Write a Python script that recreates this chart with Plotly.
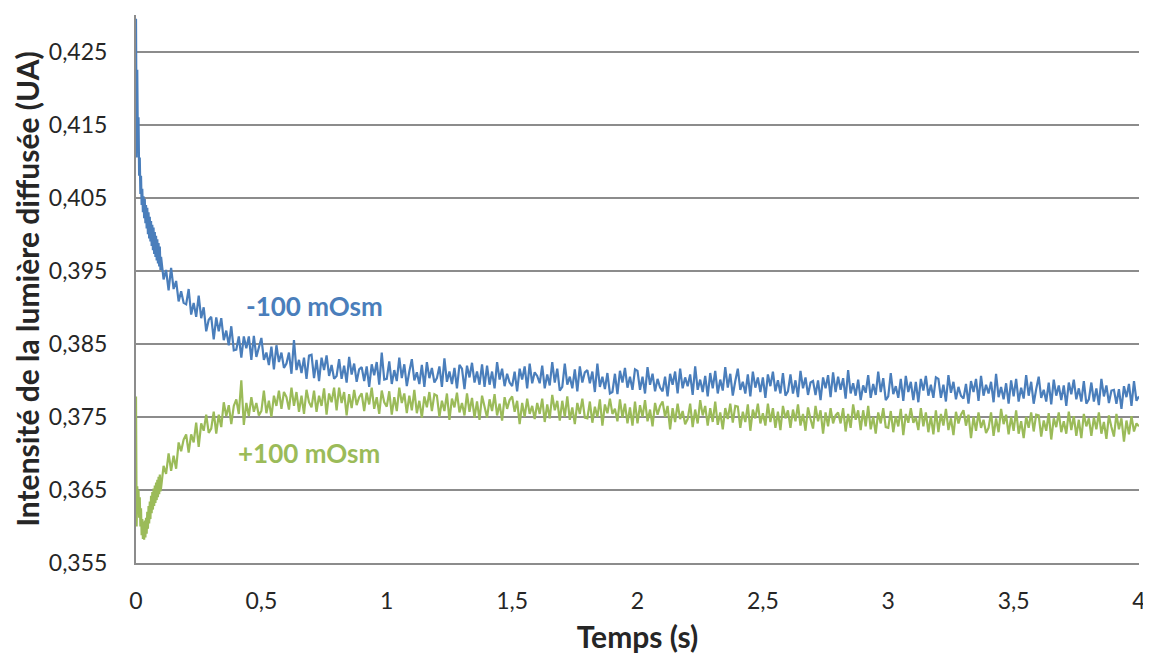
import numpy as np
import plotly.graph_objects as go

# sampling times (s): fine grid at start, then 0.01 s
t_fast = list(np.round(np.arange(40) * 0.0025, 4))
t_slow = list(np.round(np.arange(10, 401) * 0.01, 4))
time_s = t_fast + t_slow

blue_fast = [
    .4295, .4105, .4225, .4120, .4160, .4080, .4105, .4055, .4080, .4040,
    .4062, .4030, .4052, .4022, .4048, .4015, .4040, .4008, .4036, .4000,
    .4030, .3994, .4024, .3990, .4018, .3984, .4013, .3978, .4009, .3973,
    .4003, .3969, .3998, .3964, .3993, .3960, .3988, .3956, .3983, .3951,
]
blue_slow = [
    .3969, .3938, .3951, .3923, .3954, .3925, .3936, .3908, .3922, .3906,
    .3904, .3925, .3890, .3906, .3887, .3916, .3885, .3900, .3867, .3883,
    .3887, .3856, .3886, .3867, .3885, .3855, .3868, .3848, .3874, .3841,
    .3842, .3860, .3831, .3860, .3844, .3860, .3828, .3861, .3832, .3846,
    .3858, .3828, .3838, .3821, .3846, .3815, .3848, .3825, .3838, .3817,
    .3823, .3838, .3809, .3855, .3814, .3828, .3810, .3831, .3802, .3834,
    .3835, .3803, .3828, .3799, .3831, .3814, .3834, .3806, .3821, .3802,
    .3806, .3829, .3802, .3820, .3797, .3832, .3808, .3823, .3798, .3815,
    .3818, .3799, .3819, .3791, .3822, .3807, .3825, .3794, .3838, .3801,
    .3802, .3826, .3795, .3814, .3799, .3831, .3803, .3822, .3792, .3812,
    .3829, .3800, .3811, .3795, .3821, .3791, .3825, .3803, .3817, .3797,
    .3803, .3819, .3791, .3830, .3798, .3812, .3795, .3817, .3789, .3821,
    .3816, .3788, .3820, .3804, .3824, .3797, .3812, .3794, .3822, .3791,
    .3820, .3794, .3812, .3789, .3825, .3801, .3816, .3792, .3809, .3797,
    .3792, .3812, .3785, .3816, .3801, .3819, .3789, .3823, .3796, .3811,
    .3806, .3796, .3820, .3789, .3808, .3793, .3825, .3797, .3816, .3786,
    .3791, .3823, .3794, .3805, .3789, .3815, .3785, .3819, .3797, .3811,
    .3814, .3796, .3812, .3784, .3823, .3791, .3805, .3788, .3810, .3782,
    .3784, .3809, .3781, .3813, .3797, .3817, .3790, .3805, .3787, .3815,
    .3813, .3787, .3805, .3782, .3818, .3794, .3809, .3785, .3802, .3790,
    .3785, .3805, .3778, .3809, .3794, .3812, .3782, .3816, .3789, .3804,
    .3792, .3808, .3780, .3819, .3787, .3801, .3784, .3806, .3778, .3810,
    .3789, .3813, .3782, .3801, .3786, .3818, .3790, .3809, .3779, .3799,
    .3816, .3787, .3798, .3782, .3808, .3778, .3812, .3790, .3804, .3784,
    .3804, .3776, .3808, .3792, .3812, .3785, .3800, .3782, .3810, .3779,
    .3785, .3808, .3782, .3800, .3777, .3813, .3789, .3804, .3780, .3797,
    .3799, .3780, .3800, .3773, .3804, .3789, .3807, .3777, .3811, .3784,
    .3805, .3787, .3803, .3775, .3814, .3782, .3796, .3779, .3801, .3773,
    .3793, .3783, .3807, .3776, .3795, .3780, .3812, .3784, .3803, .3773,
    .3778, .3810, .3781, .3792, .3776, .3802, .3772, .3806, .3784, .3798,
    .3773, .3798, .3770, .3802, .3786, .3806, .3779, .3794, .3776, .3804,
    .3802, .3776, .3794, .3771, .3807, .3783, .3798, .3774, .3791, .3779,
    .3775, .3795, .3768, .3799, .3784, .3802, .3772, .3806, .3779, .3794,
    .3782, .3798, .3770, .3809, .3777, .3791, .3774, .3796, .3768, .3800,
    .3778, .3802, .3771, .3790, .3775, .3807, .3779, .3798, .3768, .3788,
    .3805, .3776, .3787, .3771, .3797, .3767, .3801, .3779, .3793, .3773,
    .3793, .3765, .3797, .3781, .3801, .3774, .3789, .3771, .3799, .3768,
    .3774, .3797, .3771, .3789, .3766, .3802, .3778, .3793, .3769, .3786,
    .3787, .3768, .3788, .3761, .3792, .3777, .3795, .3765, .3799, .3772,
    .3778,
]

green_fast = [
    .3778, .3600, .3655, .3618, .3650, .3612, .3640, .3600, .3625, .3588,
    .3610, .3583, .3606, .3582, .3608, .3585, .3612, .3590, .3620, .3597,
    .3628, .3604, .3634, .3610, .3642, .3618, .3647, .3623, .3652, .3628,
    .3656, .3632, .3660, .3636, .3664, .3640, .3668, .3644, .3671, .3648,
]
green_slow = [
    .3653, .3683, .3672, .3700, .3676, .3697, .3679, .3715, .3703, .3719,
    .3726, .3701, .3726, .3715, .3742, .3709, .3741, .3731, .3753, .3728,
    .3734, .3757, .3727, .3753, .3736, .3770, .3751, .3766, .3740, .3765,
    .3774, .3754, .3800, .3739, .3769, .3751, .3777, .3757, .3769, .3752,
    .3758, .3786, .3755, .3772, .3750, .3779, .3765, .3786, .3761, .3784,
    .3777, .3760, .3790, .3765, .3784, .3757, .3779, .3754, .3787, .3770,
    .3763, .3786, .3757, .3779, .3765, .3789, .3753, .3782, .3770, .3790,
    .3759, .3790, .3769, .3784, .3752, .3781, .3762, .3787, .3766, .3777,
    .3782, .3758, .3783, .3767, .3790, .3761, .3777, .3754, .3786, .3770,
    .3764, .3785, .3753, .3777, .3758, .3790, .3769, .3782, .3755, .3779,
    .3759, .3787, .3755, .3772, .3749, .3778, .3763, .3784, .3758, .3781,
    .3779, .3750, .3772, .3758, .3782, .3746, .3775, .3763, .3783, .3756,
    .3769, .3752, .3782, .3757, .3776, .3749, .3771, .3746, .3779, .3762,
    .3749, .3774, .3758, .3781, .3752, .3768, .3745, .3777, .3761, .3773,
    .3778, .3757, .3772, .3740, .3769, .3750, .3775, .3754, .3765, .3747,
    .3769, .3754, .3775, .3743, .3767, .3748, .3780, .3759, .3772, .3745,
    .3772, .3750, .3778, .3746, .3763, .3740, .3769, .3754, .3775, .3749,
    .3748, .3771, .3742, .3764, .3750, .3774, .3738, .3767, .3755, .3775,
    .3754, .3761, .3744, .3774, .3749, .3768, .3741, .3763, .3738, .3771,
    .3741, .3766, .3750, .3773, .3744, .3760, .3737, .3769, .3753, .3765,
    .3771, .3750, .3765, .3733, .3762, .3743, .3768, .3747, .3758, .3740,
    .3747, .3768, .3736, .3760, .3741, .3773, .3752, .3765, .3738, .3762,
    .3743, .3771, .3739, .3756, .3733, .3762, .3747, .3768, .3742, .3765,
    .3764, .3735, .3757, .3743, .3767, .3731, .3760, .3748, .3768, .3741,
    .3755, .3738, .3768, .3743, .3762, .3735, .3757, .3732, .3765, .3748,
    .3759, .3735, .3760, .3744, .3767, .3738, .3754, .3731, .3763, .3747,
    .3734, .3765, .3744, .3759, .3727, .3756, .3737, .3762, .3741, .3752,
    .3756, .3741, .3762, .3730, .3754, .3735, .3767, .3746, .3759, .3732,
    .3759, .3737, .3765, .3733, .3750, .3727, .3756, .3741, .3762, .3736,
    .3735, .3758, .3729, .3751, .3737, .3761, .3725, .3754, .3742, .3762,
    .3742, .3749, .3732, .3762, .3737, .3756, .3729, .3751, .3726, .3759,
    .3729, .3754, .3738, .3761, .3732, .3748, .3725, .3757, .3741, .3753,
    .3759, .3738, .3753, .3721, .3750, .3731, .3756, .3735, .3746, .3728,
    .3735, .3756, .3724, .3748, .3729, .3761, .3740, .3753, .3726, .3750,
    .3731, .3759, .3727, .3744, .3721, .3750, .3735, .3756, .3730, .3753,
    .3752, .3723, .3745, .3731, .3755, .3719, .3748, .3736, .3756, .3729,
    .3744, .3727, .3757, .3732, .3751, .3724, .3746, .3721, .3754, .3737,
    .3748, .3724, .3749, .3733, .3756, .3727, .3743, .3720, .3752, .3736,
    .3723, .3754, .3733, .3748, .3716, .3745, .3726, .3751, .3730, .3741,
    .3737,
]

blue_vals = blue_fast + blue_slow
green_vals = green_fast + green_slow

series_names = ["-100 mOsm", "+100 mOsm"]
blue_color = "#4a7ebb"
green_color = "#9bbb59"

y_ticks = [0.355, 0.365, 0.375, 0.385, 0.395, 0.405, 0.415, 0.425]
x_ticks = [0, 0.5, 1, 1.5, 2, 2.5, 3, 3.5, 4]

FONT = "Lato, 'Open Sans', sans-serif"
TXT = "#262626"

fig = go.Figure()
fig.add_trace(go.Scatter(x=time_s, y=blue_vals, mode="lines", name=series_names[0],
                         line=dict(color=blue_color, width=2.2), showlegend=False))
fig.add_trace(go.Scatter(x=time_s, y=green_vals, mode="lines", name=series_names[1],
                         line=dict(color=green_color, width=2.2), showlegend=False))

fig.add_annotation(x=0.711, y=0.3902, text="<b>-100 mOsm</b>", showarrow=False,
                   font=dict(family=FONT, size=26, color=blue_color))
fig.add_annotation(x=0.691, y=0.3700, text="<b>+100 mOsm</b>", showarrow=False,
                   font=dict(family=FONT, size=26, color=green_color))

fig.update_layout(
    width=1143, height=646,
    margin=dict(l=128, r=12, t=7, b=91),
    paper_bgcolor="white", plot_bgcolor="white",
    separators=",.",
    font=dict(family=FONT, size=23, color=TXT),
)
fig.update_xaxes(
    range=[0, 4], tickvals=x_ticks, showgrid=False, zeroline=False,
    showline=True, linecolor="#8c8c8c", linewidth=2,
    ticks="", ticklabelstandoff=16, automargin=False, ticklabeloverflow="allow",
    tickfont=dict(family=FONT, size=23, color=TXT),
    title=dict(text="<b>Temps (s)</b>", font=dict(family=FONT, size=30, color=TXT), standoff=16),
)
fig.update_yaxes(
    range=[0.355, 0.43], tickvals=y_ticks, tickformat=".3f",
    showgrid=True, gridcolor="#8c8c8c", gridwidth=2, zeroline=False,
    showline=True, linecolor="#8c8c8c", linewidth=2,
    ticks="", ticklabelstandoff=22, automargin=False,
    tickfont=dict(family=FONT, size=23, color=TXT),
    title=dict(text="<b>Intensité de la lumière diffusée (UA)</b>",
               font=dict(family=FONT, size=30, color=TXT), standoff=0),
)

fig.write_html("out.html")
